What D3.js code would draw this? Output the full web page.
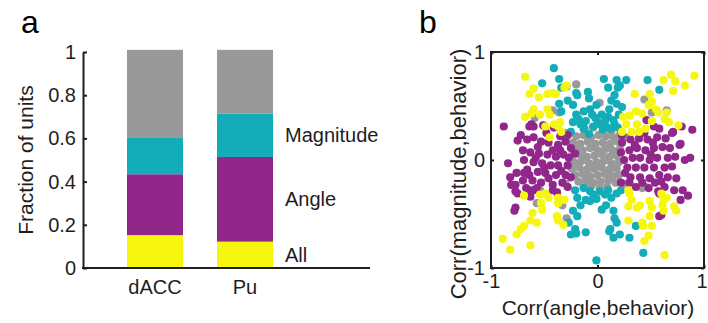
<!DOCTYPE html>
<html>
<head>
<meta charset="utf-8">
<script src="https://cdn.jsdelivr.net/npm/d3@7"></script>
<style>
  body { margin: 0; background: #fff; }
  svg { font-family: "Liberation Sans", Arial, sans-serif; }
</style>
</head>
<body>
<svg id="chart" width="708" height="323"></svg>
<script>
// ---- panel a: stacked fractions ----
const categories = ['dACC', 'Pu'];
const fracAll = [0.152, 0.122];
const fracAngle = [0.282, 0.392];
const fracMagnitude = [0.168, 0.200];
const fracNone = [0.408, 0.296];
const barTicks = [0, 0.2, 0.4, 0.6, 0.8, 1];
const barTickLabels = ['0', '0.2', '0.4', '0.6', '0.8', '1'];
const segmentLabels = ['All', 'Angle', 'Magnitude'];

// ---- panel b: correlations [angle, magnitude] ----
const scatterTicks = [-1, 0, 1];
const scatterTickLabels = ['-1', '0', '1'];

const grayPts = [
  [-0.59,0.39],[-0.42,0.46],[-0.36,0.44],[0.02,0.53],[0.44,0.56],[0.51,0.44],[0.65,0.46],[-0.57,-0.40],
  [-0.29,-0.54],[0.46,-0.25],[-0.54,-0.28],[-0.20,0.70],[-0.33,-0.42],[0.42,-0.26],[-0.30,0.25],[0.27,0.21],
  [0.26,-0.22],[-0.30,-0.22],
  [-0.12,0.29],[-0.04,0.30],[0.05,0.28],[0.13,0.27],
  [-0.20,0.22],[-0.13,0.23],[-0.06,0.21],[0.01,0.23],[0.08,0.22],[0.15,0.21],[0.21,0.23],
  [-0.23,0.16],[-0.16,0.15],[-0.09,0.17],[-0.02,0.15],[0.05,0.16],[0.12,0.15],[0.19,0.17],
  [-0.21,0.10],[-0.14,0.09],[-0.07,0.11],[0.00,0.09],[0.07,0.10],[0.14,0.09],[0.21,0.10],
  [-0.24,0.04],[-0.17,0.05],[-0.10,0.03],[-0.03,0.04],[0.04,0.05],[0.11,0.03],[0.18,0.04],
  [-0.22,-0.02],[-0.15,-0.01],[-0.08,-0.03],[-0.01,-0.02],[0.06,-0.01],[0.13,-0.03],[0.20,-0.02],
  [-0.24,-0.08],[-0.17,-0.07],[-0.10,-0.09],[-0.03,-0.08],[0.04,-0.07],[0.11,-0.09],[0.18,-0.08],
  [-0.21,-0.14],[-0.14,-0.13],[-0.07,-0.15],[0.00,-0.14],[0.07,-0.13],[0.14,-0.15],[0.20,-0.14],
  [-0.18,-0.20],[-0.11,-0.19],[-0.04,-0.21],[0.03,-0.20],[0.10,-0.19],[0.17,-0.21],
  [-0.13,-0.25],[-0.06,-0.24],[0.02,-0.26],[0.09,-0.25]
];

const tealPts = [
  [-0.41,0.85],[-0.52,0.71],[-0.36,0.75],[-0.34,0.67],[-0.36,0.52],[-0.34,0.45],[-0.20,0.62],[-0.19,0.60],
  [-0.09,0.63],[-0.08,0.57],[-0.23,0.51],[-0.20,0.42],[-0.23,0.35],[-0.25,0.26],[-0.16,0.33],[-0.13,0.29],
  [-0.08,0.24],[-0.07,0.47],[-0.05,0.42],[0.00,0.35],[-0.01,0.51],[0.06,0.75],[0.10,0.67],[0.21,0.69],
  [0.27,0.74],[0.47,0.74],[0.58,0.65],[0.16,0.60],[0.18,0.52],[0.23,0.49],[0.11,0.47],[0.04,0.42],
  [0.10,0.40],[0.15,0.37],[0.02,0.33],[0.08,0.31],[0.16,0.33],[0.20,0.42],[-0.29,0.68],[0.18,0.74],
  [0.19,0.67],[-0.18,0.38],[-0.11,0.36],[-0.04,0.31],[0.05,0.28],[0.12,0.29],[0.19,0.30],[-0.02,0.39],
  [0.07,0.36],[-0.13,0.45],[-0.28,0.55],[0.13,0.55],
  [-0.21,-0.28],[-0.13,-0.26],[-0.07,-0.29],[-0.19,-0.35],[-0.11,-0.37],[-0.16,-0.42],[-0.23,-0.47],
  [-0.19,-0.52],[-0.27,-0.58],[-0.25,-0.69],[-0.21,-0.64],[-0.11,-0.67],[-0.01,-0.93],[-0.07,-0.38],
  [-0.04,-0.32],[0.02,-0.29],[0.07,-0.32],[0.13,-0.35],[0.18,-0.31],[0.08,-0.42],[0.15,-0.47],[0.16,-0.54],
  [0.18,-0.58],[0.11,-0.66],[0.15,-0.72],[0.21,-0.69],[0.30,-0.72],[0.36,-0.61],[0.43,-0.86],[0.04,-0.46],
  [-0.20,-0.68],[0.12,-0.64],[0.22,-0.28],[-0.01,-0.36],[0.10,-0.28]
];

const purplePts = [
  [-0.88,0.31],[-0.75,0.18],[-0.84,-0.03],[-0.82,-0.16],[-0.77,-0.23],[-0.75,-0.31],[-0.64,0.31],[-0.60,0.31],
  [-0.51,0.32],[-0.41,0.30],[-0.66,0.19],[-0.60,0.21],[-0.53,0.17],[-0.46,0.16],[-0.37,0.14],[-0.30,0.17],
  [-0.25,0.11],[-0.21,0.06],[-0.70,0.09],[-0.63,0.07],[-0.55,0.06],[-0.47,0.05],[-0.39,0.03],[-0.32,0.05],
  [-0.60,-0.02],[-0.52,-0.03],[-0.44,-0.05],[-0.37,-0.05],[-0.28,-0.05],[-0.66,-0.09],[-0.56,-0.11],
  [-0.49,-0.12],[-0.39,-0.14],[-0.30,-0.14],[-0.25,-0.16],[-0.70,-0.19],[-0.61,-0.19],[-0.53,-0.21],
  [-0.42,-0.23],[-0.33,-0.21],[-0.67,-0.26],[-0.60,-0.28],[-0.63,-0.34],[-0.42,-0.28],[-0.72,0.23],
  [-0.56,0.12],[-0.35,0.09],[-0.27,0.02],[-0.69,0.00],[-0.28,0.23],[-0.77,-0.44],[-0.78,-0.47],[-0.69,-0.12],
  [-0.77,-0.29],[-0.63,-0.28],[-0.57,-0.26],[-0.76,-0.12],[-0.81,-0.23],[-0.62,0.33],[-0.48,0.25],
  [-0.35,0.22],[-0.42,0.09],[-0.50,-0.07],[-0.34,-0.10],[-0.46,-0.17],[-0.58,0.02],[-0.64,-0.14],
  [-0.28,-0.25],[-0.38,-0.30],
  [0.23,0.16],[0.31,0.19],[0.39,0.20],[0.47,0.19],[0.56,0.21],[0.64,0.20],[0.77,0.14],[0.89,0.28],
  [0.87,0.02],[0.82,0.00],[0.22,0.07],[0.30,0.09],[0.37,0.11],[0.45,0.09],[0.53,0.11],[0.61,0.12],
  [0.68,0.11],[0.25,0.00],[0.33,0.02],[0.40,0.02],[0.49,0.00],[0.56,0.02],[0.66,0.02],[0.73,0.03],
  [0.28,-0.07],[0.36,-0.07],[0.44,-0.07],[0.53,-0.07],[0.63,-0.07],[0.70,-0.06],[0.31,-0.16],[0.40,-0.16],
  [0.49,-0.17],[0.58,-0.14],[0.66,-0.16],[0.42,-0.21],[0.54,-0.21],[0.63,-0.25],[0.58,-0.31],[0.72,-0.28],
  [0.80,-0.28],[0.78,-0.37],[0.44,0.25],[0.23,0.23],[0.50,0.05],[0.30,-0.21],[0.46,0.37],[0.79,0.31],
  [0.71,0.26],[0.57,-0.29],[0.58,-0.52],[0.22,-0.21],[0.85,-0.33],[0.60,-0.51],[0.70,0.25],[0.58,0.29],
  [0.53,0.31],[0.78,0.15],[0.36,-0.25],[0.48,-0.26],[0.26,-0.12],[0.60,-0.20],[0.74,-0.17],[0.35,0.14],
  [0.52,0.16]
];

const yellowPts = [
  [-0.68,0.77],[-0.60,0.66],[-0.64,0.61],[-0.55,0.58],[-0.47,0.61],[-0.42,0.62],[-0.39,0.61],[-0.31,0.67],
  [-0.29,0.69],[-0.60,0.47],[-0.62,0.43],[-0.68,0.40],[-0.54,0.42],[-0.47,0.47],[-0.45,0.42],[-0.49,0.31],
  [-0.41,0.33],[-0.35,0.35],[-0.34,0.26],[-0.45,0.21],[-0.37,0.31],
  [0.35,0.61],[0.49,0.61],[0.62,0.74],[0.69,0.79],[0.73,0.73],[0.82,0.69],[0.91,0.78],[0.71,0.64],
  [0.51,0.54],[0.48,0.51],[0.55,0.47],[0.57,0.44],[0.65,0.44],[0.63,0.38],[0.67,0.35],[0.76,0.32],
  [0.42,0.43],[0.36,0.45],[0.30,0.41],[0.24,0.40],[0.27,0.33],[0.37,0.33],[0.51,0.36],[0.23,0.26],
  [0.32,0.26],[0.39,0.26],[0.45,0.29],
  [-0.69,-0.33],[-0.54,-0.32],[-0.49,-0.31],[-0.46,-0.35],[-0.53,-0.40],[-0.52,-0.46],[-0.61,-0.49],
  [-0.63,-0.56],[-0.57,-0.58],[-0.69,-0.61],[-0.72,-0.64],[-0.76,-0.69],[-0.89,-0.73],[-0.82,-0.83],
  [-0.63,-0.79],[-0.37,-0.35],[-0.37,-0.40],[-0.31,-0.37],[-0.38,-0.52],[-0.37,-0.56],[-0.32,-0.60],
  [0.29,-0.28],[0.30,-0.31],[0.32,-0.37],[0.29,-0.43],[0.37,-0.44],[0.40,-0.42],[0.49,-0.38],[0.51,-0.44],
  [0.49,-0.52],[0.29,-0.56],[0.42,-0.58],[0.43,-0.61],[0.51,-0.61],[0.60,-0.31],[0.62,-0.37],[0.61,-0.42],
  [0.62,-0.47],[0.65,-0.35],[0.72,-0.43],[0.74,-0.47],[0.48,-0.70],[0.44,-0.75],[0.63,-0.88]
];

const colors = { all: '#f6f60e', angle: '#91268b', magnitude: '#12adb8', none: '#999999' };
const ink = '#1e1e1e';
const tickFont = 20;

const svg = d3.select('#chart');

// ================= panel a =================
const yA = d3.scaleLinear().domain([0, 1]).range([268, 52]);
const xA = d3.scaleBand().domain(categories).range([83, 317])
  .paddingInner(0.378).paddingOuter(0.489);

const barRows = categories.map((c, i) => ({
  cat: c, all: fracAll[i], angle: fracAngle[i], magnitude: fracMagnitude[i], none: fracNone[i]
}));
const keys = ['all', 'angle', 'magnitude', 'none'];
const layers = d3.stack().keys(keys)(barRows);

const gA = svg.append('g');
gA.selectAll('g.layer')
  .data(layers)
  .join('g')
  .attr('class', 'layer')
  .attr('fill', d => colors[d.key])
  .selectAll('rect')
  .data(d => d)
  .join('rect')
  .attr('x', d => xA(d.data.cat))
  .attr('width', xA.bandwidth())
  .attr('y', d => yA(d[1]))
  .attr('height', d => yA(d[0]) - yA(d[1]));

// y axis with inward ticks
const axA = gA.append('g')
  .attr('transform', 'translate(83,0)')
  .call(d3.axisLeft(yA).tickValues(barTicks)
    .tickFormat((d, i) => barTickLabels[i])
    .tickSize(-4).tickSizeOuter(0).tickPadding(7));
axA.select('.domain').attr('stroke', ink).attr('stroke-width', 2);
axA.selectAll('.tick line').attr('stroke', ink).attr('stroke-width', 2);
axA.selectAll('.tick text').attr('font-size', tickFont).attr('fill', ink)
  .attr('font-family', '"Liberation Sans", Arial, sans-serif');

// x baseline and category labels
gA.append('line')
  .attr('x1', 82).attr('x2', 370)
  .attr('y1', yA(0)).attr('y2', yA(0))
  .attr('stroke', ink).attr('stroke-width', 2);
gA.selectAll('text.cat')
  .data(categories)
  .join('text')
  .attr('class', 'cat')
  .attr('x', d => xA(d) + xA.bandwidth() / 2)
  .attr('y', 294)
  .attr('text-anchor', 'middle')
  .attr('font-size', tickFont)
  .attr('fill', ink)
  .text(d => d);

// segment names next to the Pu bar
gA.selectAll('text.seg')
  .data(layers.slice(0, 3))
  .join('text')
  .attr('class', 'seg')
  .attr('x', 285)
  .attr('y', d => yA((d[1][0] + d[1][1]) / 2))
  .attr('dy', '0.35em')
  .attr('font-size', tickFont)
  .attr('fill', ink)
  .text((d, i) => segmentLabels[i]);

gA.append('text')
  .attr('transform', 'translate(33,160) rotate(-90)')
  .attr('text-anchor', 'middle')
  .attr('font-size', 21)
  .attr('fill', ink)
  .text('Fraction of units');

svg.append('text').attr('x', 21).attr('y', 33)
  .attr('font-size', 32).attr('fill', '#000').text('a');

// ================= panel b =================
const xB = d3.scaleLinear().domain([-1, 1]).range([491, 704]);
const yB = d3.scaleLinear().domain([-1, 1]).range([268, 52]);
const gB = svg.append('g');

const groups = [
  { pts: grayPts, color: colors.none },
  { pts: tealPts, color: colors.magnitude },
  { pts: purplePts, color: colors.angle },
  { pts: yellowPts, color: colors.all }
];
groups.forEach(grp => {
  gB.append('g').selectAll('circle')
    .data(grp.pts)
    .join('circle')
    .attr('cx', d => xB(d[0]))
    .attr('cy', d => yB(d[1]))
    .attr('r', 4.1)
    .attr('fill', grp.color);
});

const axisStyle = (g, labels) => {
  g.select('.domain').remove();
  g.selectAll('.tick line').attr('stroke', ink).attr('stroke-width', 2);
  g.selectAll('.tick text').attr('font-size', tickFont).attr('fill', ink)
    .attr('font-family', '"Liberation Sans", Arial, sans-serif');
  if (!labels) g.selectAll('.tick text').remove();
};

gB.append('g').attr('transform', 'translate(491,0)')
  .call(d3.axisLeft(yB).tickValues(scatterTicks).tickFormat((d, i) => scatterTickLabels[i])
    .tickSize(-3).tickPadding(6))
  .call(g => axisStyle(g, true));
gB.append('g').attr('transform', 'translate(0,268)')
  .call(d3.axisBottom(xB).tickValues(scatterTicks).tickFormat((d, i) => scatterTickLabels[i])
    .tickSize(-3).tickPadding(6))
  .call(g => axisStyle(g, true))
  .call(g => g.selectAll('.tick text').filter(d => d === 1)
    .attr('text-anchor', 'end').attr('x', 3));
gB.append('g').attr('transform', 'translate(704,0)')
  .call(d3.axisRight(yB).tickValues(scatterTicks).tickSize(-3))
  .call(g => axisStyle(g, false));
gB.append('g').attr('transform', 'translate(0,52)')
  .call(d3.axisTop(xB).tickValues(scatterTicks).tickSize(-3))
  .call(g => axisStyle(g, false));

gB.append('rect')
  .attr('x', 491).attr('y', 52)
  .attr('width', 704 - 491).attr('height', 268 - 52)
  .attr('fill', 'none').attr('stroke', ink).attr('stroke-width', 2);

gB.append('text')
  .attr('x', 598).attr('y', 315)
  .attr('text-anchor', 'middle')
  .attr('font-size', 21).attr('fill', ink)
  .text('Corr(angle,behavior)');
gB.append('text')
  .attr('transform', 'translate(466,174) rotate(-90)')
  .attr('text-anchor', 'middle')
  .attr('font-size', 22).attr('fill', ink)
  .text('Corr(magnitude,behavior)');

svg.append('text').attr('x', 419).attr('y', 33)
  .attr('font-size', 32).attr('fill', '#000').text('b');
</script>
</body>
</html>
